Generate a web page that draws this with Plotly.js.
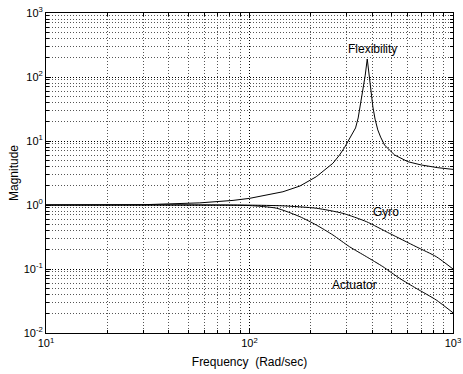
<!DOCTYPE html>
<html>
<head>
<meta charset="utf-8">
<script src="https://cdn.plot.ly/plotly-3.0.1.min.js"></script>
<style>html,body{margin:0;padding:0;background:#fff;}#chart{width:463px;height:374px;}</style>
</head>
<body>
<div id="chart"></div>
<script>
// Frequency (rad/s) and magnitude
var flexFreq = [10, 30, 57, 83, 100, 121, 146, 177, 213, 257, 277, 293, 310, 321, 332, 342, 350, 360, 370, 379, 385, 389, 396, 404, 414, 427, 441, 461, 488, 517, 600, 698, 842, 1000];
var flexMag  = [1.0, 1.01, 1.08, 1.18, 1.27, 1.42, 1.61, 1.98, 2.77, 4.49, 6.04, 7.9, 10.7, 12.9, 16.0, 22.9, 35, 58, 104, 191, 124, 80, 52, 34, 22, 14.9, 11.5, 8.66, 7.2, 6.04, 4.75, 4.22, 3.83, 3.6];

var gyroFreq = [10, 50, 100, 146, 213, 288, 375, 488, 659, 827, 1000];
var gyroMag  = [1.0, 1.0, 0.995, 0.97, 0.89, 0.74, 0.55, 0.36, 0.223, 0.156, 0.1];

var actFreq = [10, 50, 100, 136, 177, 213, 257, 310, 375, 452, 546, 659, 827, 1000];
var actMag  = [1.0, 1.0, 0.98, 0.89, 0.656, 0.487, 0.34, 0.223, 0.156, 0.109, 0.0716, 0.0499, 0.0328, 0.0207];

var seriesLabels = ["Flexibility", "Gyro", "Actuator"];
var labelFreq = [403, 470, 329];
var labelMag  = [274, 0.786, 0.0562];

var xMajor = [10, 100, 1000];
var xMajorText = ["10<sup>1</sup>", "10<sup>2</sup>", "10<sup>3</sup>"];
var yMajor = [0.01, 0.1, 1, 10, 100, 1000];
var yMajorText = ["10<sup>-2</sup>", "10<sup>-1</sup>", "10<sup>0</sup>", "10<sup>1</sup>", "10<sup>2</sup>", "10<sup>3</sup>"];

function minorVals(lo, hi) {
  var out = [];
  for (var d = lo; d < hi; d *= 10) {
    for (var k = 2; k <= 9; k++) out.push(d * k);
  }
  return out;
}

var lineStyle = {color: "black", width: 1};
var traces = [
  {x: flexFreq, y: flexMag, mode: "lines", line: lineStyle, hoverinfo: "skip"},
  {x: gyroFreq, y: gyroMag, mode: "lines", line: {color: "black", width: 1, shape: "spline", smoothing: 0.6}, hoverinfo: "skip"},
  {x: actFreq, y: actMag, mode: "lines", line: {color: "black", width: 1, shape: "spline", smoothing: 0.6}, hoverinfo: "skip"}
];

var tickFont = {family: "Liberation Sans, Arial, sans-serif", size: 11, color: "black"};
var font = {family: "Liberation Sans, Arial, sans-serif", size: 12, color: "black"};
var gridDash = "1px,2px";

function axisBase() {
  return {
    type: "log",
    showline: true, linecolor: "black", linewidth: 1, mirror: "allticks",
    ticks: "inside", ticklen: 5, tickcolor: "black", tickwidth: 1,
    tickmode: "array",
    showgrid: true, gridcolor: "black", gridwidth: 1, griddash: gridDash,
    zeroline: false,
    tickfont: tickFont
  };
}

var xaxis = axisBase();
xaxis.range = [1, 3];
xaxis.tickvals = xMajor;
xaxis.ticktext = xMajorText;
xaxis.minor = {tickmode: "array", tickvals: minorVals(10, 1000), ticks: "inside", ticklen: 3, tickcolor: "black",
               showgrid: true, gridcolor: "#555", gridwidth: 1, griddash: gridDash};
xaxis.title = {text: "Frequency\u00a0 (Rad/sec)", font: font, standoff: 9};

var yaxis = axisBase();
yaxis.range = [-2, 3];
yaxis.tickvals = yMajor;
yaxis.ticktext = yMajorText;
yaxis.minor = {tickmode: "array", tickvals: minorVals(0.01, 1000), ticks: "inside", ticklen: 3, tickcolor: "black",
               showgrid: true, gridcolor: "#555", gridwidth: 1, griddash: gridDash};
yaxis.title = {text: "Magnitude", font: font, standoff: 2};

var annotations = seriesLabels.map(function (t, i) {
  return {x: Math.log10(labelFreq[i]), y: Math.log10(labelMag[i]), xref: "x", yref: "y",
          text: t, showarrow: false, font: font, borderpad: 0};
});

var layout = {
  width: 463, height: 374,
  margin: {l: 46, r: 9.5, t: 13, b: 40.5},
  paper_bgcolor: "white", plot_bgcolor: "white",
  showlegend: false,
  xaxis: xaxis, yaxis: yaxis,
  annotations: annotations,
  font: font
};

Plotly.newPlot("chart", traces, layout, {staticPlot: true, displayModeBar: false});
</script>
</body>
</html>
